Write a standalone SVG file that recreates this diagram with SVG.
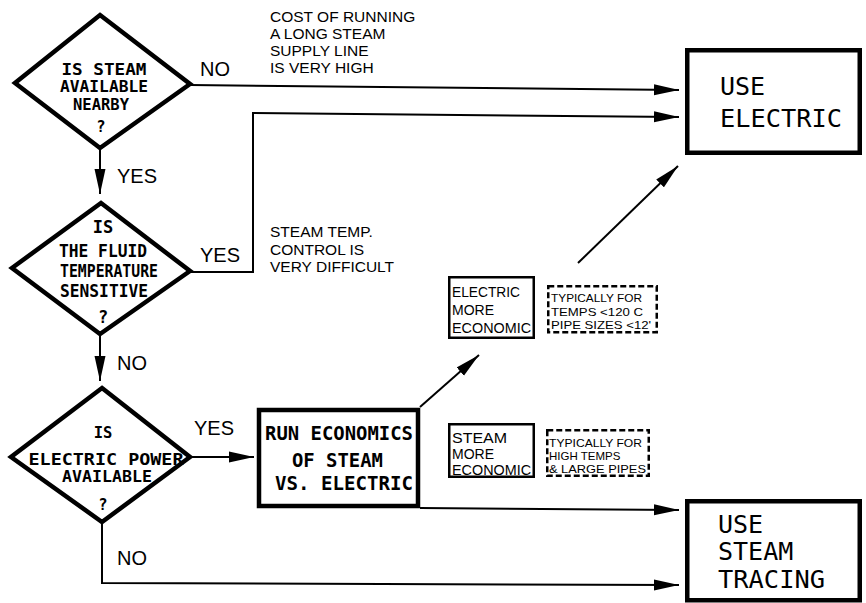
<svg xmlns="http://www.w3.org/2000/svg" width="866" height="603" viewBox="0 0 866 603">
<style>
.bg{fill:#fff}
.dia{fill:#fff;stroke:#000;stroke-width:4.5;stroke-linejoin:miter}
.thick{fill:#fff;stroke:#000;stroke-width:4.5}
.thin{fill:#fff;stroke:#000;stroke-width:2.5}
.dash{fill:#fff;stroke:#000;stroke-width:2.5;stroke-dasharray:6 3}
.con{fill:none;stroke:#000;stroke-width:2}
.dt{font-family:"DejaVu Sans Mono",monospace;font-weight:bold;font-size:15.5px;text-anchor:middle;fill:#000}
.dt2{font-family:"DejaVu Sans Mono",monospace;font-weight:bold;font-size:17px;text-anchor:middle;fill:#000}
.rt{font-family:"DejaVu Sans Mono",monospace;font-weight:bold;font-size:19px;fill:#000}
.big{font-family:"DejaVu Sans Mono",monospace;font-size:25px;fill:#000}
.lbl{font-family:"Liberation Sans",Arial,sans-serif;font-size:20px;fill:#000}
.note{font-family:"Liberation Sans",Arial,sans-serif;font-size:15.5px;fill:#000}
.sm{font-family:"Liberation Sans",Arial,sans-serif;font-size:14px;fill:#000}
.tiny{font-family:"Liberation Sans",Arial,sans-serif;font-size:11.5px;fill:#000}
</style>
<defs>
<marker id="ah" markerUnits="userSpaceOnUse" markerWidth="25" markerHeight="12" refX="25" refY="6" orient="auto">
<path d="M0,0.5 L25,6 L0,11.5 Z" fill="#000"/>
</marker>
</defs>
<rect class="bg" x="0" y="0" width="866" height="603"/>

<g id="connectors">
<line class="con" x1="100" y1="147" x2="100" y2="194" marker-end="url(#ah)"/>
<line class="con" x1="100" y1="334" x2="100" y2="381" marker-end="url(#ah)"/>
<line class="con" x1="190" y1="85" x2="679" y2="90" marker-end="url(#ah)"/>
<polyline class="con" points="190,272 253,272 253,113 679,117" marker-end="url(#ah)"/>
<line class="con" x1="190" y1="457" x2="254" y2="457" marker-end="url(#ah)"/>
<line class="con" x1="420" y1="407" x2="479" y2="355" marker-end="url(#ah)"/>
<line class="con" x1="420" y1="508" x2="679" y2="510" marker-end="url(#ah)"/>
<polyline class="con" points="102,522 102,583 679,585" marker-end="url(#ah)"/>
<line class="con" x1="578" y1="263" x2="678" y2="166" marker-end="url(#ah)"/>
<text class="lbl" x="200" y="76">NO</text>
<text class="lbl" x="117" y="183">YES</text>
<text class="lbl" x="200" y="262">YES</text>
<text class="lbl" x="117" y="370">NO</text>
<text class="lbl" x="194" y="435">YES</text>
<text class="lbl" x="117" y="565">NO</text>
<text class="note" x="270" y="22">COST OF RUNNING</text>
<text class="note" x="270" y="39">A LONG STEAM</text>
<text class="note" x="270" y="56">SUPPLY LINE</text>
<text class="note" x="270" y="73">IS VERY HIGH</text>
<text class="note" x="270" y="237">STEAM TEMP.</text>
<text class="note" x="270" y="255">CONTROL IS</text>
<text class="note" x="270" y="272">VERY DIFFICULT</text>
</g>

<g id="q-steam">
<polygon class="dia" points="100,15 190,84 100,148 15,83"/>
<text class="dt" x="104" y="75" textLength="85" lengthAdjust="spacingAndGlyphs">IS STEAM</text>
<text class="dt" x="104" y="92" textLength="88" lengthAdjust="spacingAndGlyphs">AVAILABLE</text>
<text class="dt" x="101" y="110" textLength="56" lengthAdjust="spacingAndGlyphs">NEARBY</text>
<text class="dt" x="101" y="132">?</text>
</g>

<g id="q-fluid">
<polygon class="dia" points="101,203 190,271 100,334 12,268"/>
<text class="dt2" x="103" y="233">IS</text>
<text class="dt2" x="103" y="257" textLength="88" lengthAdjust="spacingAndGlyphs">THE FLUID</text>
<text class="dt2" x="109" y="277" textLength="98" lengthAdjust="spacingAndGlyphs">TEMPERATURE</text>
<text class="dt2" x="104" y="297" textLength="88" lengthAdjust="spacingAndGlyphs">SENSITIVE</text>
<text class="dt2" x="103" y="323">?</text>
</g>

<g id="q-power">
<polygon class="dia" points="102,388 190,457 102,522 11,457"/>
<text class="dt" x="103" y="438">IS</text>
<text class="dt" x="106" y="465" textLength="155" lengthAdjust="spacingAndGlyphs">ELECTRIC POWER</text>
<text class="dt" x="107" y="482" textLength="90" lengthAdjust="spacingAndGlyphs">AVAILABLE</text>
<text class="dt" x="103" y="510">?</text>
</g>

<g id="run-economics">
<rect class="thick" x="259" y="410" width="159" height="96"/>
<text class="rt" x="265" y="440" textLength="148" lengthAdjust="spacingAndGlyphs">RUN ECONOMICS</text>
<text class="rt" x="292" y="467" textLength="91" lengthAdjust="spacingAndGlyphs">OF STEAM</text>
<text class="rt" x="275" y="490" textLength="138" lengthAdjust="spacingAndGlyphs">VS. ELECTRIC</text>
</g>

<g id="electric-more">
<rect class="thin" x="449.25" y="277.25" width="84.5" height="60.5"/>
<text class="sm" x="452" y="297" textLength="68" lengthAdjust="spacingAndGlyphs">ELECTRIC</text>
<text class="sm" x="452" y="315">MORE</text>
<text class="sm" x="452" y="333" textLength="79" lengthAdjust="spacingAndGlyphs">ECONOMIC</text>
</g>

<g id="electric-note">
<rect class="dash" x="548.25" y="286.25" width="108.5" height="46"/>
<text class="tiny" x="551" y="302" textLength="91" lengthAdjust="spacingAndGlyphs">TYPICALLY FOR</text>
<text class="tiny" x="551" y="316" textLength="92" lengthAdjust="spacingAndGlyphs">TEMPS &lt;120 C</text>
<text class="tiny" x="551" y="329" textLength="100" lengthAdjust="spacingAndGlyphs">PIPE SIZES &lt;12'</text>
</g>

<g id="steam-more">
<rect class="thin" x="449.25" y="424.25" width="84.5" height="52.5"/>
<text class="sm" x="452" y="443" textLength="55" lengthAdjust="spacingAndGlyphs">STEAM</text>
<text class="sm" x="452" y="459">MORE</text>
<text class="sm" x="452" y="475" textLength="79" lengthAdjust="spacingAndGlyphs">ECONOMIC</text>
</g>

<g id="steam-note">
<rect class="dash" x="547.25" y="430.25" width="101.5" height="45.5"/>
<text class="tiny" x="549" y="447" textLength="93" lengthAdjust="spacingAndGlyphs">TYPICALLY FOR</text>
<text class="tiny" x="549" y="460">HIGH TEMPS</text>
<text class="tiny" x="549" y="473" textLength="97" lengthAdjust="spacingAndGlyphs">&amp; LARGE PIPES</text>
</g>

<g id="use-electric">
<rect class="thick" x="687.25" y="50.25" width="172.5" height="102.5"/>
<text class="big" x="720" y="95">USE</text>
<text class="big" x="720" y="127" textLength="122" lengthAdjust="spacingAndGlyphs">ELECTRIC</text>
</g>

<g id="use-steam">
<rect class="thick" x="687.25" y="501.25" width="172.5" height="99"/>
<text class="big" x="718" y="533">USE</text>
<text class="big" x="718" y="560">STEAM</text>
<text class="big" x="718" y="588" textLength="107" lengthAdjust="spacingAndGlyphs">TRACING</text>
</g>
</svg>
